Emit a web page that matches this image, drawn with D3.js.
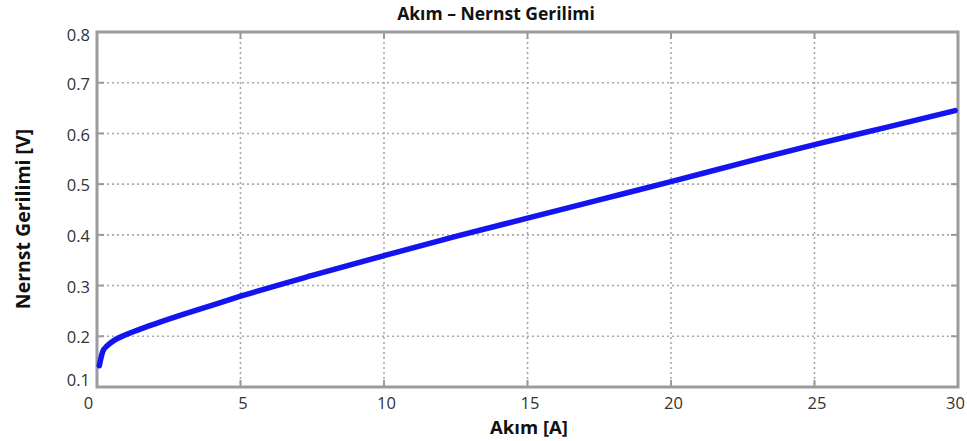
<!DOCTYPE html>
<html><head><meta charset="utf-8">
<script src="https://cdn.jsdelivr.net/npm/d3@7"></script>
<style>
body{margin:0;background:#fff;}
svg{display:block;font-family:"Open Sans",Lato,sans-serif;}
</style></head>
<body><svg id="c" width="967" height="441"></svg>
<script>
const akim = [0.08, 0.2, 0.35, 0.6, 1, 1.5, 2, 3, 4, 5, 7.5, 10, 12.5, 15, 17.5, 20, 22.5, 25, 27.5, 29.9];
const gerilim = [0.142, 0.170, 0.181, 0.192, 0.203, 0.214, 0.224, 0.243, 0.261, 0.279, 0.320, 0.359, 0.397, 0.433, 0.469, 0.505, 0.542, 0.578, 0.612, 0.645];
const xTicks = [0, 5, 10, 15, 20, 25, 30];
const yTicks = [0.1, 0.2, 0.3, 0.4, 0.5, 0.6, 0.7, 0.8];

const svg = d3.select("#c");
const m = {l: 97, t: 32, r: 958, b: 387};
const x = d3.scaleLinear().domain([0, 30]).range([m.l, m.r]);
const y = d3.scaleLinear().domain([0.1, 0.8]).range([m.b, m.t]);
const FONT = "'Open Sans',Lato,sans-serif";

// grid
const grid = svg.append("g");
grid.selectAll("line.vx").data(xTicks.slice(1, -1)).join("line").attr("class", "vx")
  .attr("x1", d => x(d)).attr("x2", d => x(d)).attr("y1", m.t).attr("y2", m.b)
  .attr("stroke", "#a8a8a8").attr("stroke-width", 1.6).attr("stroke-dasharray", "2,3");
grid.selectAll("line.hy").data(yTicks.slice(1, -1)).join("line").attr("class", "hy")
  .attr("y1", d => y(d)).attr("y2", d => y(d)).attr("x1", m.l).attr("x2", m.r)
  .attr("stroke", "#a8a8a8").attr("stroke-width", 1.6).attr("stroke-dasharray", "2,3");

// inner ticks on all four sides
const tk = 7;
const ticks = svg.append("g").attr("stroke", "#9a9a9a").attr("stroke-width", 2);
ticks.selectAll("line.tb").data(xTicks.slice(1, -1)).join("line").attr("class", "tb")
  .attr("x1", d => x(d)).attr("x2", d => x(d)).attr("y1", m.b).attr("y2", m.b - tk);
ticks.selectAll("line.tt").data(xTicks.slice(1, -1)).join("line").attr("class", "tt")
  .attr("x1", d => x(d)).attr("x2", d => x(d)).attr("y1", m.t).attr("y2", m.t + tk);
ticks.selectAll("line.tl").data(yTicks.slice(1, -1)).join("line").attr("class", "tl")
  .attr("y1", d => y(d)).attr("y2", d => y(d)).attr("x1", m.l).attr("x2", m.l + tk);
ticks.selectAll("line.tr").data(yTicks.slice(1, -1)).join("line").attr("class", "tr")
  .attr("y1", d => y(d)).attr("y2", d => y(d)).attr("x1", m.r).attr("x2", m.r - tk);

// frame
const frame = svg.append("g").attr("stroke", "#9c9c9c").attr("stroke-width", 3).attr("fill", "none");
frame.append("path")
  .attr("d", `M${m.l},${m.t}H${m.r}V${m.b}H${m.l}Z`);

// tick labels via d3 axes (no domain/tick lines)
const xa = svg.append("g").attr("transform", `translate(0,${m.b})`)
  .call(d3.axisBottom(x).tickValues(xTicks).tickSize(0).tickPadding(10).tickFormat(d3.format("d")));
xa.select(".domain").remove();
xa.selectAll("text").attr("font-size", 16.5).attr("fill", "#333").attr("font-family", FONT)
  .attr("dx", d => d === 0 ? -9 : (d === 30 ? -3 : 2));
const ya = svg.append("g").attr("transform", `translate(${m.l},0)`)
  .call(d3.axisLeft(y).tickValues(yTicks).tickSize(0).tickPadding(7).tickFormat(d3.format(".1f")));
ya.select(".domain").remove();
ya.selectAll("text").attr("font-size", 16.5).attr("fill", "#333").attr("font-family", FONT)
  .attr("dy", d => d === 0.1 ? "-0.1em" : (d === 0.8 ? "0.5em" : "0.4em"));

// curve
const line = d3.line().x((d, i) => x(akim[i])).y(d => y(d)).curve(d3.curveMonotoneX);
svg.append("path").datum(gerilim).attr("d", line)
  .attr("fill", "none").attr("stroke", "#1414f0").attr("stroke-width", 5.5).attr("stroke-linecap", "round");

// titles
svg.append("text").attr("x", 496).attr("y", 20).attr("text-anchor", "middle").attr("font-family", FONT)
  .attr("font-size", 17.5).attr("font-weight", "bold").attr("fill", "#111").text("Akım – Nernst Gerilimi");
svg.append("text").attr("x", 529).attr("y", 434).attr("text-anchor", "middle").attr("font-family", FONT)
  .attr("font-size", 18.5).attr("font-weight", "bold").attr("fill", "#111").text("Akım [A]");
svg.append("text").attr("transform", "translate(30,219) rotate(-90)").attr("text-anchor", "middle").attr("font-family", FONT)
  .attr("font-size", 19.5).attr("font-weight", "bold").attr("fill", "#111").text("Nernst Gerilimi [V]");
</script></body></html>
